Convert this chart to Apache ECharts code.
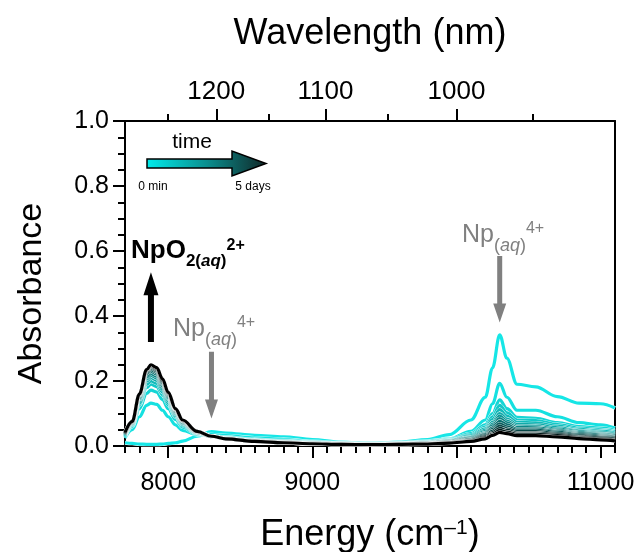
<!DOCTYPE html>
<html>
<head>
<meta charset="utf-8">
<script src="https://cdn.jsdelivr.net/npm/echarts@6/dist/echarts.min.js"></script>
<style>
  html, body { margin: 0; padding: 0; background: #fff; }
  #chart { width: 638px; height: 552px; }
</style>
</head>
<body>
<div id="chart"></div>
<script>
// ---------- data ----------
const energy = [7700, 7750, 7800, 7850, 7880, 7920, 7960, 8000, 8050, 8100, 8200, 8300, 8400, 8600, 8800, 9000,
                9200, 9400, 9600, 9800, 9950, 10100, 10200, 10250, 10300, 10350, 10420, 10550, 10700, 10850, 11000, 11100];

const s0  = [0.010, 0.008, 0.006, 0.005, 0.005, 0.005, 0.006, 0.008, 0.010, 0.015, 0.030, 0.044, 0.040, 0.033, 0.028, 0.020, 0.012, 0.008, 0.012, 0.020, 0.035, 0.080, 0.150, 0.240, 0.342, 0.270, 0.190, 0.182, 0.152, 0.132, 0.130, 0.117];
const s1  = [0.025, 0.050, 0.090, 0.125, 0.132, 0.128, 0.110, 0.090, 0.065, 0.048, 0.035, 0.035, 0.032, 0.025, 0.020, 0.014, 0.010, 0.008, 0.010, 0.015, 0.022, 0.045, 0.080, 0.130, 0.193, 0.150, 0.110, 0.110, 0.090, 0.072, 0.065, 0.055];
const s2  = [0.028, 0.060, 0.115, 0.162, 0.172, 0.166, 0.143, 0.115, 0.082, 0.058, 0.036, 0.030, 0.027, 0.020, 0.016, 0.012, 0.009, 0.007, 0.009, 0.013, 0.020, 0.038, 0.065, 0.100, 0.142, 0.115, 0.088, 0.085, 0.072, 0.060, 0.055, 0.048];
const s3  = [0.030, 0.064, 0.127, 0.180, 0.190, 0.183, 0.158, 0.127, 0.090, 0.063, 0.038, 0.030, 0.025, 0.018, 0.014, 0.011, 0.008, 0.006, 0.008, 0.012, 0.018, 0.034, 0.058, 0.090, 0.125, 0.102, 0.080, 0.078, 0.066, 0.055, 0.050, 0.044];
const s4  = [0.032, 0.066, 0.133, 0.190, 0.200, 0.193, 0.166, 0.133, 0.094, 0.066, 0.039, 0.029, 0.024, 0.017, 0.013, 0.010, 0.008, 0.006, 0.008, 0.011, 0.017, 0.031, 0.053, 0.081, 0.112, 0.092, 0.073, 0.071, 0.061, 0.051, 0.046, 0.040];
const s5  = [0.033, 0.068, 0.140, 0.200, 0.210, 0.202, 0.174, 0.139, 0.098, 0.068, 0.040, 0.029, 0.023, 0.016, 0.012, 0.010, 0.007, 0.006, 0.007, 0.010, 0.016, 0.028, 0.048, 0.073, 0.100, 0.083, 0.066, 0.065, 0.056, 0.047, 0.042, 0.037];
const s6  = [0.034, 0.069, 0.144, 0.206, 0.217, 0.209, 0.180, 0.144, 0.101, 0.070, 0.041, 0.029, 0.023, 0.016, 0.012, 0.009, 0.007, 0.005, 0.007, 0.010, 0.015, 0.026, 0.044, 0.067, 0.092, 0.077, 0.061, 0.060, 0.052, 0.044, 0.039, 0.034];
const s7  = [0.035, 0.070, 0.148, 0.212, 0.223, 0.215, 0.185, 0.148, 0.104, 0.072, 0.042, 0.029, 0.022, 0.015, 0.011, 0.009, 0.007, 0.005, 0.007, 0.009, 0.014, 0.024, 0.040, 0.062, 0.084, 0.071, 0.057, 0.056, 0.048, 0.041, 0.036, 0.032];
const s8  = [0.036, 0.071, 0.152, 0.218, 0.230, 0.221, 0.190, 0.152, 0.107, 0.074, 0.043, 0.029, 0.022, 0.015, 0.011, 0.008, 0.006, 0.005, 0.006, 0.009, 0.013, 0.022, 0.037, 0.056, 0.076, 0.065, 0.052, 0.052, 0.045, 0.038, 0.033, 0.029];
const s9  = [0.037, 0.072, 0.155, 0.223, 0.235, 0.226, 0.194, 0.155, 0.109, 0.076, 0.044, 0.030, 0.022, 0.015, 0.011, 0.008, 0.006, 0.005, 0.006, 0.008, 0.012, 0.020, 0.034, 0.051, 0.068, 0.059, 0.048, 0.048, 0.042, 0.035, 0.030, 0.027];
const s10 = [0.038, 0.073, 0.157, 0.227, 0.240, 0.231, 0.198, 0.158, 0.111, 0.077, 0.044, 0.030, 0.022, 0.014, 0.010, 0.008, 0.006, 0.004, 0.006, 0.008, 0.011, 0.018, 0.031, 0.046, 0.061, 0.053, 0.044, 0.044, 0.038, 0.032, 0.027, 0.024];
const s11 = [0.039, 0.074, 0.158, 0.231, 0.244, 0.235, 0.201, 0.161, 0.113, 0.078, 0.045, 0.030, 0.022, 0.014, 0.010, 0.007, 0.005, 0.004, 0.005, 0.007, 0.010, 0.016, 0.028, 0.041, 0.054, 0.048, 0.040, 0.040, 0.035, 0.029, 0.024, 0.021];
const s12 = [0.040, 0.075, 0.159, 0.233, 0.247, 0.238, 0.204, 0.163, 0.114, 0.079, 0.045, 0.030, 0.022, 0.014, 0.010, 0.007, 0.005, 0.004, 0.005, 0.007, 0.010, 0.015, 0.025, 0.037, 0.048, 0.043, 0.036, 0.036, 0.032, 0.026, 0.021, 0.018];
const s13 = [0.042, 0.076, 0.160, 0.235, 0.250, 0.241, 0.207, 0.165, 0.115, 0.080, 0.045, 0.030, 0.022, 0.014, 0.010, 0.007, 0.005, 0.004, 0.005, 0.006, 0.009, 0.014, 0.022, 0.033, 0.042, 0.038, 0.032, 0.032, 0.028, 0.023, 0.019, 0.016];
const spectra = [s0, s1, s2, s3, s4, s5, s6, s7, s8, s9, s10, s11, s12, s13];

const energyTicks = [8000, 9000, 10000, 11000];
const wavelengthMajor = [1200, 1100, 1000];
const wavelengthMinor = [1250, 1150, 1050, 950];

// ---------- styling helpers ----------
const FONT = '"Liberation Sans", Arial, Helvetica, sans-serif';
const startRGB = [22, 230, 230];
function curveColor(i, n) {
  const t = Math.pow(i / (n - 1), 1.4);
  const c = startRGB.map(v => Math.round(v * (1 - t)));
  return 'rgb(' + c.join(',') + ')';
}
const toE = nm => 1e7 / nm;

const series = [];
spectra.forEach((s, i) => {
  const data = energy.map((e, k) => [e, s[k]]);
  const common = { type: 'line', data: data, showSymbol: false, symbol: 'none', smooth: 0.35,
                   smoothMonotone: 'x', silent: true, animation: false, clip: true };
  series.push(Object.assign({}, common, { lineStyle: { color: '#ffffff', width: 3.9 }, z: 2 }));
  series.push(Object.assign({}, common, { lineStyle: { color: curveColor(i, spectra.length), width: 3.2 }, z: 2 }));
});

const axisLine = { show: true, onZero: false, lineStyle: { color: '#000', width: 2 } };
const noLine = { show: false, onZero: false };
const tickStyle = { color: '#000', width: 2 };

const option = {
  animation: false,
  backgroundColor: '#ffffff',
  grid: { left: 125, top: 121, width: 490, height: 325, outerBoundsMode: 'none', containLabel: false },
  xAxis: [
    { type: 'value', position: 'bottom', min: 7700, max: 11100, interval: 100,
      axisLine: axisLine, splitLine: { show: false },
      axisTick: { show: true, length: 7, lineStyle: tickStyle },
      axisLabel: { fontSize: 25, color: '#000', fontFamily: FONT, margin: 25,
                   formatter: v => (energyTicks.indexOf(v) >= 0 ? String(v) : '') },
      name: '{t|Energy (cm}{s|\u20131}{t|)}', nameLocation: 'middle', nameGap: 71,
      nameTextStyle: { rich: {
        t: { fontSize: 36, fontFamily: FONT, color: '#000' },
        s: { fontSize: 21, fontFamily: FONT, color: '#000', padding: [0, 0, 14, 0] } } } },
    { type: 'value', position: 'top', min: 7700, max: 11100,
      axisLine: axisLine, splitLine: { show: false },
      axisTick: { show: true, length: 12, lineStyle: tickStyle, customValues: wavelengthMajor.map(toE) },
      axisLabel: { customValues: wavelengthMajor.map(toE), fontSize: 26, color: '#000', fontFamily: FONT, margin: 16,
                   formatter: v => String(Math.round(1e7 / v)) },
      name: 'Wavelength (nm)', nameLocation: 'middle', nameGap: 69,
      nameTextStyle: { fontSize: 36, fontFamily: FONT, color: '#000' } },
    { type: 'value', position: 'top', min: 7700, max: 11100,
      axisLine: noLine, splitLine: { show: false },
      axisTick: { show: true, length: 7, lineStyle: tickStyle, customValues: wavelengthMinor.map(toE) },
      axisLabel: { show: false } },
    { type: 'value', position: 'bottom', min: 7700, max: 11100,
      axisLine: noLine, splitLine: { show: false },
      axisTick: { show: true, length: 12, lineStyle: tickStyle, customValues: energyTicks },
      axisLabel: { show: false } }
  ],
  yAxis: [
    { type: 'value', position: 'left', min: 0, max: 1, interval: 0.2,
      axisLine: axisLine, splitLine: { show: false },
      axisTick: { show: true, length: 12, lineStyle: tickStyle },
      minorTick: { show: true, splitNumber: 4, length: 7, lineStyle: tickStyle },
      axisLabel: { fontSize: 25, color: '#000', fontFamily: FONT, margin: 16, formatter: v => v.toFixed(1) },
      name: 'Absorbance', nameLocation: 'middle', nameGap: 76,
      nameTextStyle: { fontSize: 34, fontFamily: FONT, color: '#000', padding: [0, 20, 0, 0] } },
    { type: 'value', position: 'right', min: 0, max: 1,
      axisLine: axisLine, axisTick: { show: false }, axisLabel: { show: false }, splitLine: { show: false } }
  ],
  series: series
};

const chart = echarts.init(document.getElementById('chart'), null, { renderer: 'canvas' });
chart.setOption(option);

// ---------- annotations ----------
const px = (x, y) => chart.convertToPixel({ gridIndex: 0 }, [x, y]);
function vArrow(x, yFrom, yTo, shaftW, headW, headL, color) {
  const a = px(x, yFrom), b = px(x, yTo);
  const cx = a[0], y0 = a[1], y1 = b[1];
  const dir = y1 > y0 ? 1 : -1;
  const yh = y1 - dir * headL;
  return { type: 'polygon', silent: true, z: 20,
    shape: { points: [[cx - shaftW / 2, y0], [cx + shaftW / 2, y0], [cx + shaftW / 2, yh], [cx + headW / 2, yh],
                      [cx, y1], [cx - headW / 2, yh], [cx - shaftW / 2, yh]] },
    style: { fill: color } };
}
const measureCtx = document.createElement('canvas').getContext('2d');
function fontStr(p) {
  return (p.italic ? 'italic ' : '') + (p.bold ? 'bold ' : '') + p.size + 'px ' + FONT;
}
function formula(x0, baseline, parts, color) {
  const out = [];
  let x = x0;
  parts.forEach(p => {
    measureCtx.font = fontStr(p);
    const w = measureCtx.measureText(p.text).width;
    const yb = baseline + (p.dy || 0);
    out.push({ type: 'text', silent: true, z: 20, x: x, y: yb - 0.32 * p.size,
      style: { text: p.text, fontSize: p.size, fontFamily: FONT, fontWeight: p.bold ? 'bold' : 'normal',
               fontStyle: p.italic ? 'italic' : 'normal', fill: color, align: 'left', verticalAlign: 'middle' } });
    x += w;
  });
  return out;
}
const grey = '#808080';
const npParts = [
  { text: 'Np', size: 25 },
  { text: '(', size: 18, dy: 9 },
  { text: 'aq', size: 18, dy: 9, italic: true },
  { text: ')', size: 18, dy: 9 },
  { text: '4+', size: 16, dy: -9 }
];
const npo2Parts = [
  { text: 'NpO', size: 26, bold: true },
  { text: '2(', size: 17, bold: true, dy: 8 },
  { text: 'aq', size: 17, bold: true, italic: true, dy: 8 },
  { text: ')', size: 17, bold: true, dy: 8 },
  { text: '2+', size: 16, bold: true, dy: -8 }
];

const graphic = [
  vArrow(10300, 0.585, 0.38, 5, 13, 19, grey),
  vArrow(8300, 0.29, 0.085, 5, 13, 19, grey),
  vArrow(7880, 0.32, 0.535, 6, 15, 23, '#000')
].concat(
  formula(462, 243, npParts, grey),
  formula(173, 337, npParts, grey),
  formula(131, 259, npo2Parts, '#000'),
  [
    { type: 'polygon', silent: true, z: 20,
      shape: { points: [[147, 159], [232, 159], [232, 151], [266, 163.5], [232, 176], [232, 168], [147, 168]] },
      style: { fill: new echarts.graphic.LinearGradient(0, 0, 1, 0, [
        { offset: 0, color: '#00ecec' }, { offset: 0.5, color: '#0b8f8f' }, { offset: 1, color: '#102626' }]),
        stroke: '#000', lineWidth: 1.5 } },
    { type: 'text', silent: true, z: 20, x: 192, y: 142,
      style: { text: 'time', fontSize: 21, fontFamily: FONT, fill: '#000', align: 'center', verticalAlign: 'middle' } },
    { type: 'text', silent: true, z: 20, x: 153, y: 187,
      style: { text: '0 min', fontSize: 12, fontFamily: FONT, fill: '#000', align: 'center', verticalAlign: 'middle' } },
    { type: 'text', silent: true, z: 20, x: 253, y: 187,
      style: { text: '5 days', fontSize: 12, fontFamily: FONT, fill: '#000', align: 'center', verticalAlign: 'middle' } }
  ]);
chart.setOption({ graphic: graphic });
</script>
</body>
</html>
